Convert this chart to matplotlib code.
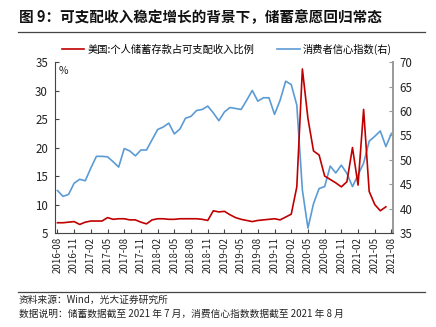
import matplotlib

matplotlib.use("Agg")
import matplotlib.pyplot as plt  # noqa: E402
import numpy as np  # noqa: E402

plt.rcParams["font.family"] = ["Noto Sans CJK SC", "DejaVu Sans"]

TITLE = "图 9：可支配收入稳定增长的背景下，储蓄意愿回归常态"
SAVING_LABEL = "美国:个人储蓄存款占可支配收入比例"
CONF_LABEL = "消费者信心指数(右)"
SOURCE = "资料来源：Wind，光大证券研究所"
NOTE = "数据说明：储蓄数据截至 2021 年 7 月，消费信心指数数据截至 2021 年 8 月"

# monthly, 2016-08 .. 2021-08
months = [f"{2016 + (7 + k) // 12}-{(7 + k) % 12 + 1:02d}" for k in range(61)]

# personal saving rate, % of disposable income (2016-08 .. 2021-07)
saving_rate = [
    6.8, 6.8, 6.9, 7.0, 6.5, 6.9, 7.1, 7.1, 7.1, 7.7, 7.4, 7.5,
    7.5, 7.3, 7.3, 6.9, 6.6, 7.3, 7.5, 7.5, 7.4, 7.4, 7.5, 7.5,
    7.5, 7.5, 7.4, 7.2, 8.9, 8.7, 8.8, 8.2, 7.7, 7.4, 7.2, 7.0,
    7.2, 7.3, 7.4, 7.5, 7.3, 7.8, 8.3, 13.1, 33.8, 25.1, 19.4, 18.7,
    15.0, 14.4, 13.8, 13.1, 14.0, 20.0, 13.4, 26.7, 12.3, 10.0, 8.9, 9.6,
]

# consumer confidence index (2016-08 .. 2021-08)
confidence = [
    43.7, 42.5, 42.9, 45.2, 46.0, 45.7, 48.3, 50.7, 50.7, 50.6, 49.6, 48.5,
    52.3, 51.8, 50.8, 52.0, 52.0, 54.1, 56.2, 56.7, 57.5, 55.3, 56.3, 58.5,
    58.9, 60.1, 60.3, 61.0, 59.6, 58.0, 59.8, 60.7, 60.5, 60.3, 62.2, 64.2,
    62.0, 62.7, 62.7, 59.3, 62.2, 66.1, 65.4, 61.2, 43.8, 36.0, 41.0, 44.1,
    44.5, 48.7, 47.3, 48.9, 47.2, 44.5, 46.9, 49.3, 53.8, 54.8, 55.9, 52.7,
    55.4,
]

RED = "#C00000"
BLUE = "#5B9BD5"

fig = plt.figure(figsize=(4.36, 3.27), dpi=100)
ax = fig.add_axes([0.126, 0.2875, 0.775, 0.5225])
ax2 = ax.twinx()

x = np.arange(len(months))
ln1, = ax.plot(x[:len(saving_rate)], saving_rate, color=RED, lw=1.2)
ln2, = ax2.plot(x, confidence, color=BLUE, lw=1.2)
ax.set_zorder(ax2.get_zorder() + 1)
ax.patch.set_visible(False)

ax.set_xlim(-0.45, 60.25)
ax.set_ylim(5, 35)
ax2.set_ylim(35, 70)
ax.set_yticks(range(5, 36, 5))
ax2.set_yticks(range(35, 71, 5))
ax.set_xticks(x[::3])
ax.set_xticklabels(months[::3], rotation=90, fontsize=7, color="#222222")

for a in (ax, ax2):
    a.spines["top"].set_visible(False)
    a.tick_params(axis="y", direction="in", length=3, labelsize=8.3,
                  colors="#222222", width=0.8, pad=5)
ax.tick_params(axis="x", direction="in", length=3, pad=3, color="#444444")
ax.spines["left"].set_color("#444444")
ax.spines["bottom"].set_color("#444444")
ax.spines["right"].set_visible(False)
ax2.spines["left"].set_visible(False)
ax2.spines["bottom"].set_visible(False)
ax2.spines["right"].set_color("#999999")
ax2.spines["right"].set_linewidth(1.4)
ax.tick_params(axis="y", color="#444444")
ax2.tick_params(axis="y", color="#999999")

ax.text(0.012, 0.975, "%", transform=ax.transAxes, fontsize=7.5,
        va="top", ha="left", color="#222222")

fig.legend([ln1, ln2], [SAVING_LABEL, CONF_LABEL], loc="center",
           bbox_to_anchor=(0.52, 0.85), ncol=2, frameon=False, fontsize=7.4,
           handlelength=2.2, handletextpad=0.3, columnspacing=2.2)

fig.text(0.043, 0.948, TITLE, fontsize=10.5, fontweight="bold",
         va="center", ha="left", color="#111111")
fig.add_artist(plt.Line2D([0.041, 0.975], [0.903, 0.903], color="#444444",
                          lw=0.9, transform=fig.transFigure))
fig.add_artist(plt.Line2D([0.041, 0.975], [0.108, 0.108], color="#444444",
                          lw=0.9, transform=fig.transFigure))
fig.text(0.043, 0.083, SOURCE, fontsize=7, va="center", ha="left",
         color="#222222")
fig.text(0.043, 0.040, NOTE, fontsize=7, va="center", ha="left",
         color="#222222")

fig.savefig("out.png", dpi=100)
